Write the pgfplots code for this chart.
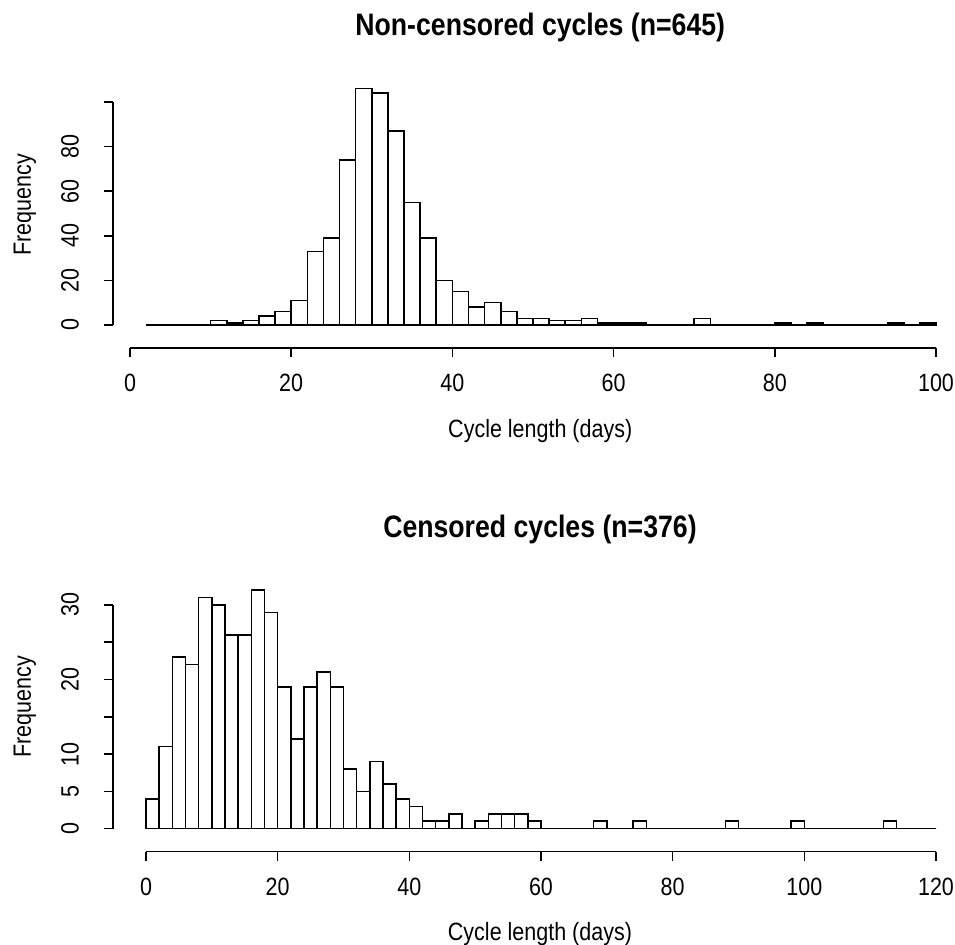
\documentclass[border=0pt]{standalone}
\usepackage{fontspec}
\setmainfont[FakeStretch=0.86]{Liberation Sans}
\usepackage{graphicx}
\usepackage{pgfplots}
\pgfplotsset{compat=1.18}

\newcommand\rl[1]{\rotatebox{90}{#1}}

\pgfplotsset{
  rhist/.style={
    scale only axis,
    axis x line*=bottom, axis y line*=left,
    enlargelimits=false, clip=false,
    axis line style={line width=0.8pt, -},
    tick style={line width=0.8pt, black},
    tick align=outside, major tick length=4.5pt,
    axis x line shift=11.5pt,
    font=\fontsize{12.5}{15}\selectfont,
    /pgf/number format/assume math mode=true,
    xticklabel style={anchor=north, yshift=-5pt},
    yticklabel style={anchor=east, xshift=-9pt},
    title style={anchor=center, font=\bfseries\fontsize{15.5}{18}\selectfont},
    xlabel style={anchor=center},
    ylabel style={anchor=center},
  },
  hbar/.style={ybar interval, fill=white, draw=black, line width=0.8pt},
}

\begin{document}
\begin{tikzpicture}
\useasboundingbox (0,0) rectangle (477.5pt,-472.5pt);

% non-censored
\begin{axis}[rhist,
  at={(65pt,-162.5pt)}, anchor=south west,
  width=403pt, height=111.5pt,
  xmin=0, xmax=100, ymin=0, ymax=100,
  axis y line shift=8.5pt,
  xtick={0,20,...,100},
  ytick={0,20,...,100}, yticklabels={\rl{0},\rl{20},\rl{40},\rl{60},\rl{80},{}},
  title={Non-censored cycles (n=645)},
  title style={at={(rel axis cs:0.509,1.282)}},
  xlabel={Cycle length (days)},
  xlabel style={at={(rel axis cs:0.509,-0.475)}},
  ylabel={Frequency},
  ylabel style={at={(rel axis cs:-0.1303,0.538)}},
]
\addplot[hbar] coordinates {
(2,0)(4,0)(6,0)(8,0)(10,2)(12,1)(14,2)(16,4)(18,6)(20,11)
(22,33)(24,39)(26,74)(28,106)(30,104)(32,87)(34,55)(36,39)(38,20)(40,15)
(42,8)(44,10)(46,6)(48,3)(50,3)(52,2)(54,2)(56,3)(58,1)(60,1)
(62,1)(64,0)(66,0)(68,0)(70,3)(72,0)(74,0)(76,0)(78,0)(80,1)
(82,0)(84,1)(86,0)(88,0)(90,0)(92,0)(94,1)(96,0)(98,1)(100,0)};
\end{axis}

% censored
\begin{axis}[rhist,
  at={(73pt,-414.35pt)}, anchor=south west,
  width=395pt, height=111.85pt,
  xmin=0, xmax=120, ymin=0, ymax=30,
  axis y line shift=16.5pt,
  xtick={0,20,...,120},
  ytick={0,5,...,30}, yticklabels={\rl{0},\rl{5},\rl{10},{},\rl{20},{},\rl{30}},
  title={Censored cycles (n=376)},
  title style={at={(rel axis cs:0.4987,1.286)}},
  xlabel={Cycle length (days)},
  xlabel style={at={(rel axis cs:0.4987,-0.47)}},
  ylabel={Frequency},
  ylabel style={at={(rel axis cs:-0.1532,0.544)}},
]
\addplot[hbar] coordinates {
(0,4)(2,11)(4,23)(6,22)(8,31)(10,30)(12,26)(14,26)(16,32)(18,29)
(20,19)(22,12)(24,19)(26,21)(28,19)(30,8)(32,5)(34,9)(36,6)(38,4)
(40,3)(42,1)(44,1)(46,2)(48,0)(50,1)(52,2)(54,2)(56,2)(58,1)
(60,0)(62,0)(64,0)(66,0)(68,1)(70,0)(72,0)(74,1)(76,0)(78,0)
(80,0)(82,0)(84,0)(86,0)(88,1)(90,0)(92,0)(94,0)(96,0)(98,1)
(100,0)(102,0)(104,0)(106,0)(108,0)(110,0)(112,1)(114,0)(116,0)(118,0)(120,0)};
\end{axis}
\end{tikzpicture}
\end{document}
